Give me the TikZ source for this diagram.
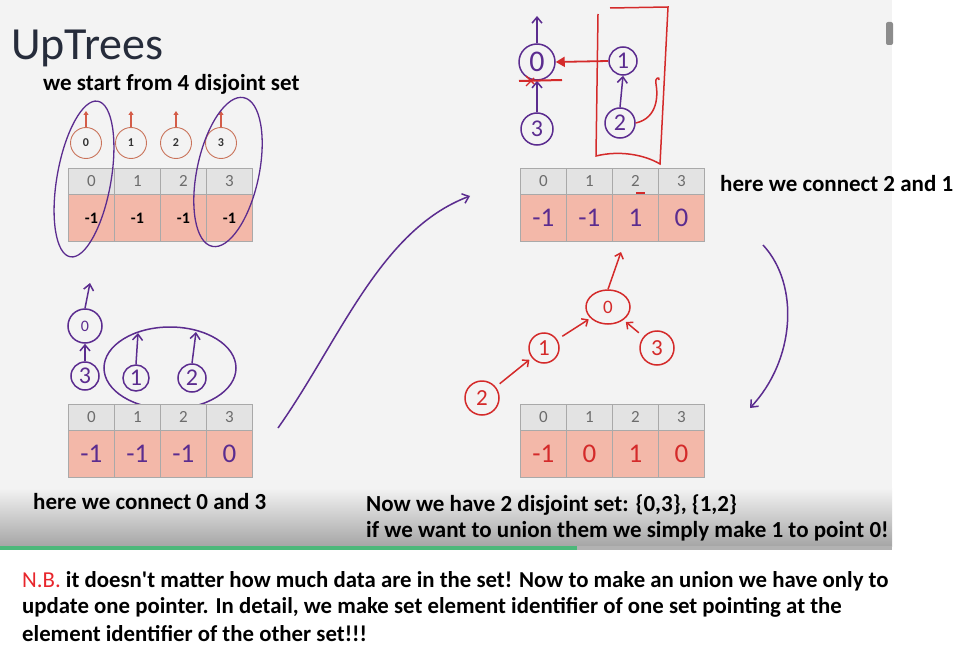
\documentclass[tikz,border=0pt]{standalone}
\usepackage{fontspec}
\setmainfont{Carlito}
\usetikzlibrary{arrows.meta,shapes.geometric,calc}
\definecolor{slidebg}{HTML}{F3F3F3}
\definecolor{hdr}{HTML}{E3E3E3}
\definecolor{val}{HTML}{F3B8A9}
\definecolor{cellline}{HTML}{A9A9A9}
\definecolor{pen}{HTML}{5B2C8F}
\definecolor{redpen}{HTML}{D42A2A}
\definecolor{orangec}{HTML}{C9735A}
\definecolor{titlec}{HTML}{262C3B}
\definecolor{barg}{HTML}{4CB87A}
\definecolor{nbred}{HTML}{E8262C}
\newcommand\uptable[3]{%
  \foreach \i in {0,1,2,3} {
    \node[hdrcell] (#1h\i) at ({#2+46*\i},#3) {\i};
    \node[valcell] (#1v\i) at ({#2+46*\i},{#3+26}) {};
  }}
\begin{document}
\begin{tikzpicture}[x=1pt,y=-1pt,
  hdrcell/.style={draw=cellline, line width=0.8pt, fill=hdr, minimum width=46pt, minimum height=26pt, inner sep=0pt, anchor=north west, text=gray!85!black, font=\fontsize{17}{17}\selectfont},
  valcell/.style={draw=cellline, line width=0.8pt, fill=val, minimum width=46pt, minimum height=47pt, inner sep=0pt, anchor=north west},
  capt/.style={font=\fontsize{23}{26}\selectfont\bfseries, text=black, inner sep=0pt, anchor=west},
  nb/.style={font=\fontsize{22.8}{26}\selectfont\bfseries, text=black, inner sep=0pt, anchor=west},
  smallc/.style={circle, draw=orangec, line width=0.9pt, minimum size=31pt, inner sep=0pt, font=\fontsize{12}{12}\selectfont\bfseries, text=black!80},
  oarrow/.style={draw=orangec!80!red, line width=1.6pt, -{Triangle[length=4pt,width=5pt]}},
  hc/.style={circle, draw=pen, line width=1.5pt, inner sep=0pt, text=pen, font=\fontsize{24}{24}\selectfont},
  rc/.style={circle, draw=redpen, line width=1.5pt, inner sep=0pt, text=redpen, font=\fontsize{23}{23}\selectfont},
  parrow/.style={draw=pen, line width=1.5pt, -{Straight Barb[length=6pt,width=10pt]}},
  rarrow/.style={draw=redpen, line width=1.5pt, -{Straight Barb[length=5pt,width=9pt]}},
  vtxt/.style={inner sep=0pt, font=\fontsize{16}{16}\selectfont\bfseries, text=black},
  ptxt/.style={inner sep=0pt, font=\fontsize{27}{27}\selectfont, text=pen},
  rtxt/.style={inner sep=0pt, font=\fontsize{27}{27}\selectfont, text=redpen}]
\useasboundingbox (0,0) rectangle (973,655);
\fill[white] (0,0) rectangle (973,655);
% slide
\fill[slidebg] (0,0) rectangle (892,548);
\shade[top color=slidebg, bottom color=black!35] (0,488) rectangle (892,546);
\fill[barg] (0,546) rectangle (577,550);
\fill[black!30] (577,546) rectangle (892,550);
\fill[black!45, rounded corners=2pt] (886,22) rectangle (893,45);
% title
\node[inner sep=0pt, anchor=west, text=titlec, font=\fontsize{46}{46}\selectfont] (title) at (11,48) {UpTrees};
\node[capt] (cap1) at (43,84) {we start from 4 disjoint set};
% table 1
\uptable{a}{68}{168}
\foreach \i in {0,1,2,3} {\node[vtxt] (av\i t) at (av\i.center) {-1};}
\foreach \i/\x in {0/86,1/131,2/176,3/221} {
  \node[smallc] (s\i) at (\x,143) {\i};
  \coordinate (su\i) at (\x,111);
  \draw[oarrow] (s\i.north) -- (su\i);
}
\node[ellipse, draw=pen, line width=1.3pt, minimum width=54pt, minimum height=158pt, inner sep=0pt, rotate=-10] (sel0) at (84,179) {};
\node[ellipse, draw=pen, line width=1.3pt, minimum width=62pt, minimum height=152pt, inner sep=0pt, rotate=-12] (sel3) at (228,172) {};
% middle-left tree
\node[hc, minimum width=28pt, minimum height=34pt] (m0) at (85,326) {\fontsize{16}{16}\selectfont 0};
\node[hc, minimum size=28pt] (m3) at (85,376) {3};
\coordinate (m0up) at (90,283);
\draw[parrow] (m0.north) -- (m0up);
\draw[parrow] (m3.north) -- (m0.south);
\node[ellipse, draw=pen, line width=1.5pt, minimum width=132pt, minimum height=82pt, inner sep=0pt] (mell) at (170,368) {};
\node[hc, minimum size=26pt] (m1) at (136,378) {1};
\node[hc, minimum size=28pt] (m2) at (192,378) {2};
\coordinate (m1up) at (138,333);
\coordinate (m2up) at (196,332);
\draw[parrow] (m1.north) -- (m1up);
\draw[parrow] (m2.north) -- (m2up);
% table 2
\uptable{b}{68}{404}
\foreach \i/\t in {0/-1,1/-1,2/-1,3/0} {\node[ptxt] (bv\i t) at (bv\i.center) {\t};}
\node[capt] (cap2) at (33,502) {here we connect 0 and 3};
% big arrow
\coordinate (bigA) at (278,428);
\coordinate (bigB) at (470,196);
\draw[parrow] (bigA) .. controls (340,340) and (380,230) .. (bigB);
% top-right tree
\node[hc, minimum size=36pt, font=\fontsize{30}{30}\selectfont] (p0) at (537,62) {0};
\node[hc, minimum size=32pt] (p3) at (537,129) {3};
\node[hc, minimum size=28pt] (p1) at (623,61) {1};
\node[hc, minimum size=30pt] (p2) at (620,123) {2};
\coordinate (p0up) at (537,16);
\draw[parrow] (p0.north) -- (p0up);
\draw[parrow] (p3.north) -- (p0.south);
\draw[parrow] (p2.north) -- (p1.south);
\coordinate (xa) at (519,81);
\coordinate (xb) at (562,80);
\draw[redpen, line width=2pt] (xa) -- (xb);
\draw[redpen, line width=1.4pt] (526,76) -- (534,84) (526,86) -- (534,78);
\draw[redpen, line width=1.8pt, -{Triangle[length=9pt,width=10pt]}] (p1.west) -- (p0.east);
\coordinate (bx1) at (598,14);
\draw[redpen, line width=1.5pt] (bx1) -- (596,156) .. controls (620,150) and (645,155) .. (660,164) -- (668,7) -- (610,8);
\coordinate (hookB) at (659,80);
\draw[redpen, line width=1.5pt] (p2.east) .. controls (658,118) and (658,95) .. (656,84) .. controls (654,78) and (660,76) .. (hookB);
% table 3
\uptable{c}{520}{168}
\foreach \i/\t in {0/-1,1/-1,2/1,3/0} {\node[ptxt] (cv\i t) at (cv\i.center) {\t};}
\draw[redpen, line width=1.4pt] (636,193) -- (645,193);
\node[capt] (cap3) at (720,184) {here we connect 2 and 1};
% red tree
\node[ellipse, draw=redpen, line width=1.5pt, minimum width=44pt, minimum height=34pt, inner sep=0pt, text=redpen, font=\fontsize{19}{19}\selectfont] (r0) at (608,307) {0};
\node[rc, minimum size=30pt] (r1) at (544,348) {1};
\node[rc, minimum size=34pt] (r2) at (482,398) {2};
\node[rc, minimum size=34pt] (r3) at (657,348) {3};
\coordinate (r0up) at (621,252);
\draw[rarrow] (r0.north) -- (r0up);
\draw[rarrow, shorten <=5pt, shorten >=3pt] (r2) -- (r1);
\draw[rarrow, shorten <=6pt, shorten >=2pt] (r1) -- (r0);
\draw[rarrow, shorten <=6pt, shorten >=3pt] (r3) -- (r0);
% right curved arrow
\coordinate (cA) at (763,245);
\coordinate (cB) at (750,408);
\draw[parrow] (cA) .. controls (800,285) and (795,360) .. (cB);
% table 4
\uptable{d}{520}{404}
\foreach \i/\t in {0/-1,1/0,2/1,3/0} {\node[rtxt] (dv\i t) at (dv\i.center) {\t};}
\node[capt] (cap4) at (366,505) {Now we have 2 disjoint set: \{0,3\}, \{1,2\}};
\node[capt] (cap5) at (366,531) {if we want to union them we simply make 1 to point 0!};
% N.B.
\node[nb] (nb1) at (22,581) {\textcolor{nbred}{\mdseries N.B.} it doesn\textquotesingle t matter how much data are in the set! Now to make an union we have only to};
\node[nb] (nb2) at (22,607) {update one pointer. In detail, we make set element identifier of one set pointing at the};
\node[nb] (nb3) at (22,634) {element identifier of the other set!!!};
\end{tikzpicture}
\end{document}
